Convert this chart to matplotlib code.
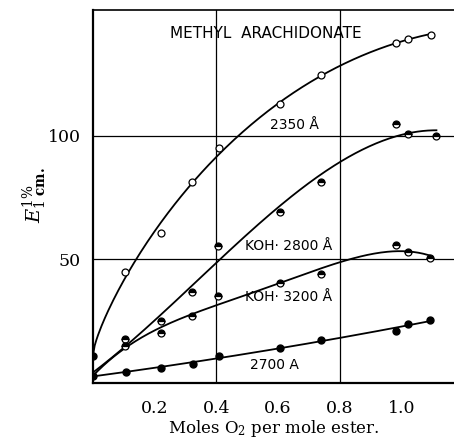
import numpy as np
import matplotlib
matplotlib.use('Agg')
import matplotlib.pyplot as plt

# Values (methyl arachidonate autoxidation)
x_2350 = [0.0, 0.104, 0.220, 0.321, 0.410, 0.608, 0.740, 0.984, 1.022, 1.098]
y_2350 = [11.0, 44.8, 60.6, 81.4, 95.2, 112.9, 124.5, 137.7, 139.4, 141.0]

x_2800 = [0.0, 0.104, 0.220, 0.321, 0.407, 0.605, 0.738, 0.984, 1.022, 1.114]
y_2800 = [3.0, 17.8, 25.1, 36.9, 55.4, 69.3, 81.4, 104.8, 101.0, 100.0]

x_3200 = [0.0, 0.104, 0.220, 0.321, 0.407, 0.605, 0.738, 0.984, 1.022, 1.093]
y_3200 = [3.0, 15.0, 20.1, 27.2, 35.2, 40.3, 44.0, 55.8, 52.9, 50.7]

x_2700 = [0.0, 0.106, 0.220, 0.323, 0.410, 0.605, 0.738, 0.984, 1.022, 1.093]
y_2700 = [2.8, 4.6, 6.2, 7.7, 10.9, 14.0, 17.4, 21.0, 23.9, 25.5]

xticks = [0.2, 0.4, 0.6, 0.8, 1.0]
yticks = [50, 100]

plt.rcParams['mathtext.fontset'] = 'dejavuserif'

fig = plt.figure(figsize=(4.54, 4.42), dpi=100)
ax = fig.add_axes([93 / 454, 59 / 442, 361 / 454, 373 / 442])


def smooth(xs, ys, deg, use_sqrt=False):
    xs = np.asarray(xs)
    ys = np.asarray(ys)
    xx = np.linspace(xs.min(), xs.max(), 200)
    if use_sqrt:
        p = np.polyfit(np.sqrt(xs), ys, deg)
        return xx, np.polyval(p, np.sqrt(xx))
    p = np.polyfit(xs, ys, deg)
    return xx, np.polyval(p, xx)


# grid lines (only two each way in the original)
for gx in [0.4, 0.8]:
    ax.axvline(gx, color='black', lw=0.9, zorder=1)
for gy in [50, 100]:
    ax.axhline(gy, color='black', lw=0.9, zorder=1)

# fitted curves
for xs, ys, deg, sq in [(x_2350, y_2350, 3, True), (x_2800, y_2800, 3, False),
                        (x_3200, y_3200, 4, False), (x_2700, y_2700, 2, False)]:
    xx, yy = smooth(xs, ys, deg, sq)
    ax.plot(xx, yy, color='black', lw=1.3, zorder=2)

ms = 5
ax.plot(x_2350[1:], y_2350[1:], 'o', ms=ms, mfc='white', mec='black', mew=0.9, zorder=3)
ax.plot(x_2350[0], y_2350[0], 'o', ms=ms, color='black', zorder=3)
ax.plot(x_2800[1:], y_2800[1:], 'o', ms=ms, fillstyle='top', mfc='black',
        mfcalt='white', mec='black', mew=0.9, zorder=3)
ax.plot(x_3200[1:], y_3200[1:], 'o', ms=ms, fillstyle='top', mfc='black',
        mfcalt='white', mec='black', mew=0.9, zorder=3)
ax.plot(x_2700, y_2700, 'o', ms=ms, color='black', zorder=3)

# curve labels
lab = dict(fontsize=10, family='DejaVu Sans', ha='center', va='center')
ax.text(0.56, 141.6, 'METHYL  ARACHIDONATE', fontsize=11, family='DejaVu Sans',
        ha='center', va='center')
ax.text(0.654, 104.4, '2350 Å', **lab)
ax.text(0.634, 55.4, 'KOH· 2800 Å', **lab)
ax.text(0.634, 34.8, 'KOH· 3200 Å', **lab)
ax.text(0.589, 7.3, '2700 A', **lab)

ax.set_xlim(0, 1.171)
ax.set_ylim(0, 151)
ax.set_xticks(xticks)
ax.set_xticklabels([f'{t:.1f}' for t in xticks], family='DejaVu Serif', fontsize=12.5)
ax.set_yticks(yticks)
ax.set_yticklabels([str(t) for t in yticks], family='DejaVu Serif', fontsize=12.5)
ax.tick_params(length=0)
ax.tick_params(axis='x', pad=12)
ax.tick_params(axis='y', pad=9)

ax.spines['right'].set_visible(False)
ax.spines['left'].set_linewidth(1.6)
ax.spines['bottom'].set_linewidth(1.6)
ax.spines['top'].set_linewidth(1.2)

ax.set_xlabel('Moles O$_2$ per mole ester.', family='DejaVu Serif', fontsize=12, labelpad=1)
fig.text(35 / 454, 1 - 195 / 442, r'$E^{1\%}_{1\ \mathbf{cm.}}$', rotation=90,
         ha='center', va='center', fontsize=14)

fig.savefig('out.png', dpi=100)
